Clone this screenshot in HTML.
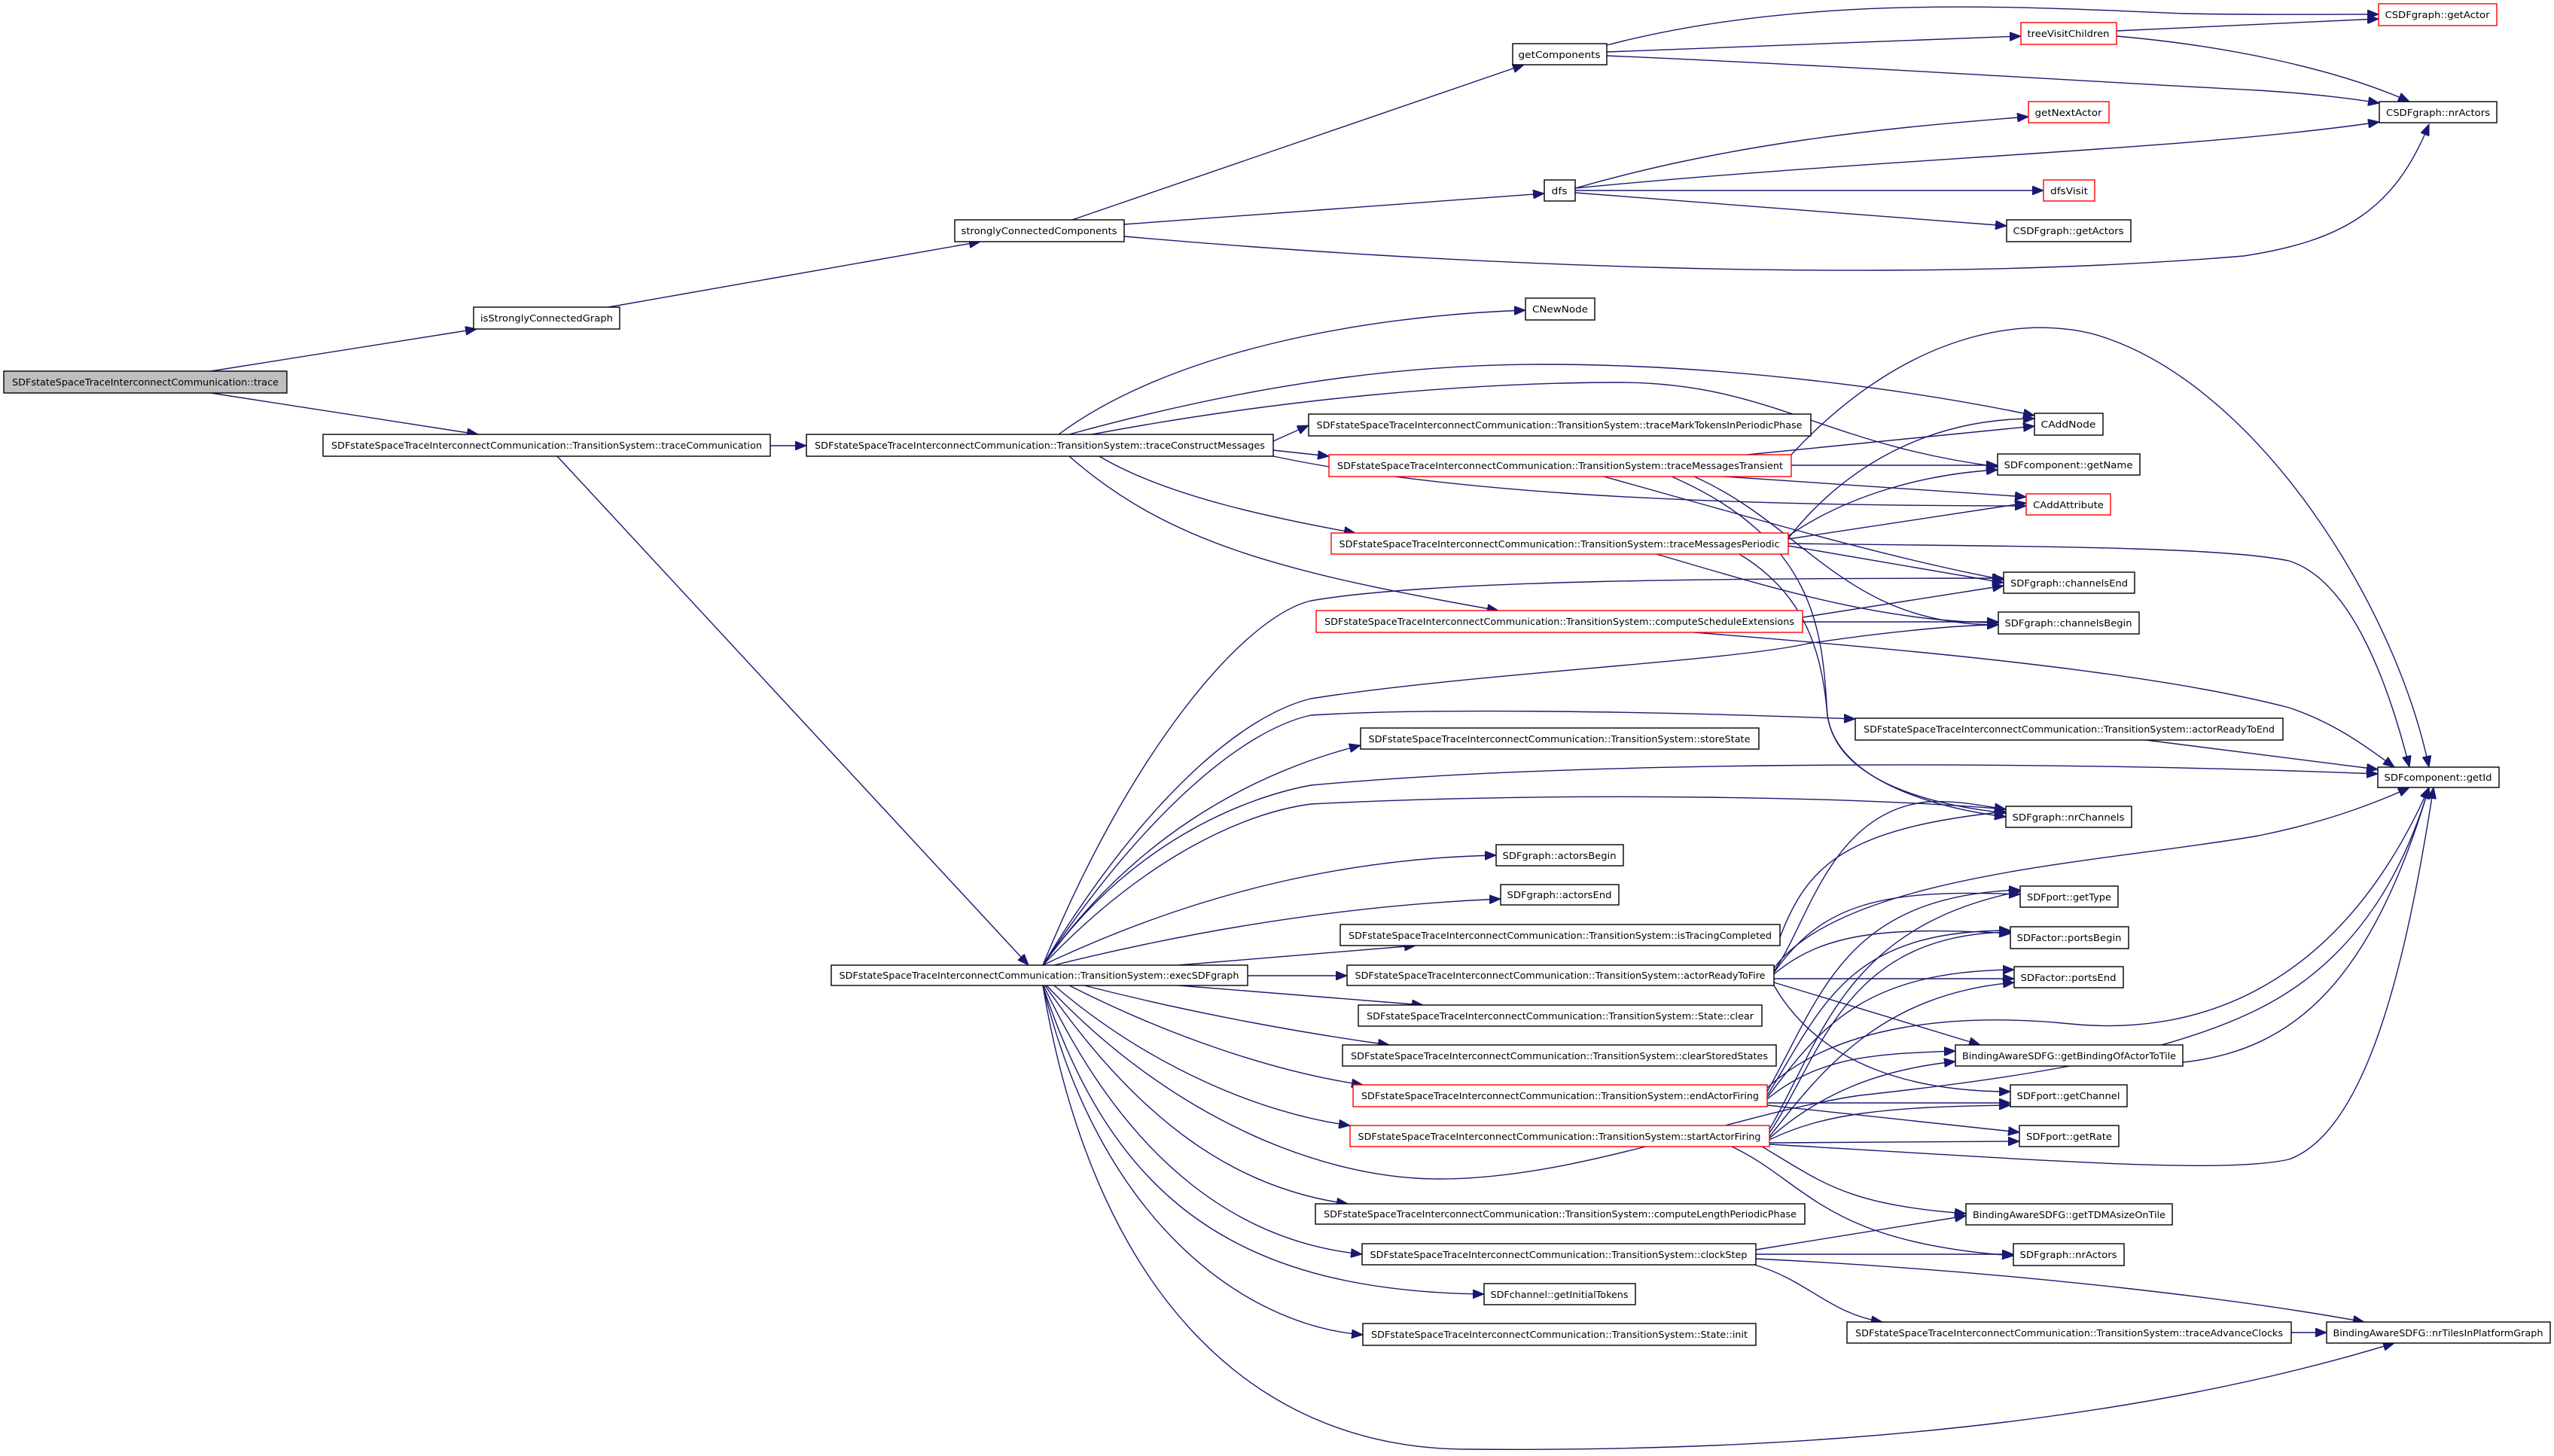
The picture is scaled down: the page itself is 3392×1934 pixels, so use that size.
<!DOCTYPE html>
<html><head><meta charset="utf-8"><style>
html,body{margin:0;padding:0;background:#fff;}
svg{display:block;}
text{font-family:"DejaVu Sans","Liberation Sans",sans-serif;font-size:12.5px;fill:#000;}
.e{fill:none;stroke:#191970;stroke-width:1.4;marker-end:url(#a);}
.n{fill:#fff;stroke:#000;stroke-width:1.4;}
.r{fill:#fff;stroke:#ff0000;stroke-width:1.4;}
.g{fill:#bfbfbf;stroke:#000;stroke-width:1.4;}
</style></head><body>
<svg width="3392" height="1934" viewBox="0 0 3392 1934" xmlns="http://www.w3.org/2000/svg">
<defs><marker id="a" markerUnits="userSpaceOnUse" markerWidth="16" markerHeight="12" refX="15" refY="6" orient="auto"><path d="M0,0 L15,6 L0,12 z" fill="#191970" stroke="#191970"/></marker></defs>

<!-- edges -->
<path class="e" d="M280,493 L633,437"/>
<path class="e" d="M280,522 L635,577"/>
<path class="e" d="M1023,592 L1071,592"/>
<path class="e" d="M740,606 L1366,1282"/>
<path class="e" d="M808,408 L1302,321"/>
<path class="e" d="M1424,292 L2024,86"/>
<path class="e" d="M1493,298 L2051,257"/>
<path class="e" d="M1493,314 C1900,350 2500,380 2980,340 C3110,320 3180,280 3226,165"/>
<path class="e" d="M2134,60 C2400,-10 2700,10 2900,18 C3000,20 3100,19 3159,19"/>
<path class="e" d="M2134,69 L2684,48"/>
<path class="e" d="M2134,74 C2500,90 2800,110 3000,120 C3080,125 3130,132 3160,137"/>
<path class="e" d="M2811,41 L3159,25"/>
<path class="e" d="M2811,48 C2950,60 3100,90 3200,135"/>
<path class="e" d="M2092,250 C2300,190 2500,170 2694,155"/>
<path class="e" d="M2092,250 C2500,210 2900,200 3160,162"/>
<path class="e" d="M2092,253 L2714,253"/>
<path class="e" d="M2092,256 L2665,300"/>
<path class="e" d="M1406,577 C1550,470 1800,420 2026,412"/>
<path class="e" d="M1420,577 C1700,500 1900,484 2050,484 C2300,484 2550,520 2702,552"/>
<path class="e" d="M1450,577 C1700,530 1950,508 2150,508 C2350,508 2420,590 2653,620"/>
<path class="e" d="M1691,586 L1738,565"/>
<path class="e" d="M1691,598 L1765,606"/>
<path class="e" d="M1691,606 C1900,650 2200,672 2691,672"/>
<path class="e" d="M1460,606 C1550,660 1700,690 1800,708"/>
<path class="e" d="M1420,606 C1550,720 1700,760 1990,811"/>
<path class="e" d="M2320,604 L2702,566"/>
<path class="e" d="M2379,618 L2653,618"/>
<path class="e" d="M2290,633 L2691,660"/>
<path class="e" d="M2379,604 C2550,420 2720,420 2800,450 C3000,520 3180,800 3226,1019"/>
<path class="e" d="M2130,633 C2300,680 2500,740 2661,770"/>
<path class="e" d="M2250,633 C2400,700 2450,830 2654,830"/>
<path class="e" d="M2220,633 C2420,720 2420,850 2427,950 C2440,1040 2580,1075 2664,1085"/>
<path class="e" d="M2375,715 C2450,620 2560,556 2702,556"/>
<path class="e" d="M2375,712 C2450,660 2550,630 2653,624"/>
<path class="e" d="M2375,716 L2691,668"/>
<path class="e" d="M2375,725 L2661,774"/>
<path class="e" d="M2200,736 C2350,780 2500,827 2654,827"/>
<path class="e" d="M2375,722 C2700,726 2950,726 3040,745 C3120,770 3170,900 3200,1019"/>
<path class="e" d="M2310,736 C2400,790 2420,870 2427,950 C2440,1040 2570,1070 2664,1080"/>
<path class="e" d="M2394,820 L2661,778"/>
<path class="e" d="M2394,826 L2654,826"/>
<path class="e" d="M2250,840 C2500,860 2850,890 3040,940 C3100,960 3140,990 3180,1019"/>
<path class="e" d="M1385,1282 C1500,1000 1650,820 1741,798 C1900,770 2300,768 2661,768"/>
<path class="e" d="M1385,1282 C1520,1060 1650,950 1741,928 C1950,895 2300,878 2400,855 C2500,840 2600,830 2654,830"/>
<path class="e" d="M1385,1282 C1520,1080 1650,970 1741,950 C1900,940 2200,945 2464,955"/>
<path class="e" d="M1385,1282 C1500,1120 1650,1030 1807,990"/>
<path class="e" d="M1385,1282 C1500,1120 1650,1060 1741,1043 C2100,1010 2700,1010 3158,1028"/>
<path class="e" d="M1385,1282 C1520,1140 1650,1080 1741,1068 C2100,1050 2500,1060 2664,1075"/>
<path class="e" d="M1385,1282 C1600,1180 1800,1140 1987,1136"/>
<path class="e" d="M1400,1282 C1650,1220 1850,1200 1993,1194"/>
<path class="e" d="M1565,1282 L1880,1256"/>
<path class="e" d="M1657,1296 L1789,1296"/>
<path class="e" d="M1565,1309 L1890,1335"/>
<path class="e" d="M1440,1309 C1600,1350 1750,1375 1845,1388"/>
<path class="e" d="M1420,1309 C1560,1380 1700,1425 1810,1441"/>
<path class="e" d="M1400,1309 C1530,1420 1680,1480 1793,1495"/>
<path class="e" d="M1390,1309 C1550,1480 1750,1566 1911,1566 C2100,1566 2300,1480 2470,1455 C2700,1430 2880,1400 3000,1340 C3100,1290 3180,1200 3226,1046"/>
<path class="e" d="M1388,1309 C1520,1500 1650,1580 1790,1599"/>
<path class="e" d="M1386,1309 C1500,1550 1650,1650 1809,1666"/>
<path class="e" d="M1385,1309 C1480,1600 1650,1715 1971,1719"/>
<path class="e" d="M1385,1309 C1460,1620 1650,1760 1810,1773"/>
<path class="e" d="M1385,1309 C1450,1700 1650,1925 1950,1925 C2500,1930 2900,1870 3180,1784"/>
<path class="e" d="M2364,1245 C2400,1150 2450,1100 2664,1078"/>
<path class="e" d="M2356,1290 C2400,1230 2430,1078 2560,1065 C2600,1063 2630,1070 2664,1075"/>
<path class="e" d="M2356,1286 C2450,1160 2800,1145 3000,1110 C3100,1090 3170,1060 3200,1046"/>
<path class="e" d="M2356,1292 C2420,1200 2500,1180 2683,1188"/>
<path class="e" d="M2356,1294 C2420,1240 2500,1230 2670,1240"/>
<path class="e" d="M2356,1300 L2675,1300"/>
<path class="e" d="M2356,1305 L2630,1388"/>
<path class="e" d="M2356,1309 C2420,1420 2550,1450 2670,1450"/>
<path class="e" d="M2347,1450 C2420,1320 2450,1190 2683,1182"/>
<path class="e" d="M2347,1455 C2420,1340 2450,1235 2670,1236"/>
<path class="e" d="M2347,1458 C2420,1360 2480,1290 2675,1288"/>
<path class="e" d="M2347,1460 C2420,1400 2500,1400 2597,1396"/>
<path class="e" d="M2347,1465 L2670,1465"/>
<path class="e" d="M2347,1468 L2682,1504"/>
<path class="e" d="M2347,1445 C2440,1360 2600,1345 2750,1360 C2900,1375 3100,1330 3226,1046"/>
<path class="e" d="M2350,1500 C2420,1380 2450,1230 2683,1184"/>
<path class="e" d="M2350,1505 C2420,1400 2450,1240 2670,1238"/>
<path class="e" d="M2350,1510 C2420,1420 2500,1320 2675,1305"/>
<path class="e" d="M2350,1512 C2420,1450 2500,1420 2597,1410"/>
<path class="e" d="M2350,1514 C2420,1480 2500,1470 2670,1468"/>
<path class="e" d="M2350,1518 L2682,1516"/>
<path class="e" d="M2350,1520 C2700,1540 2950,1560 3040,1540 C3150,1500 3200,1250 3232,1046"/>
<path class="e" d="M2340,1523 C2420,1570 2450,1600 2611,1612"/>
<path class="e" d="M2300,1523 C2400,1570 2420,1650 2674,1668"/>
<path class="e" d="M2332,1660 L2611,1615"/>
<path class="e" d="M2332,1666 L2674,1666"/>
<path class="e" d="M2332,1672 C2700,1690 3000,1730 3140,1756"/>
<path class="e" d="M2330,1680 C2400,1700 2430,1745 2500,1756"/>
<path class="e" d="M3043,1770 L3090,1770"/>
<path class="e" d="M2850,983 L3158,1022"/>
<path class="e" d="M2899,1411 C3050,1395 3150,1300 3226,1046"/>

<!-- nodes -->
<rect class="g" x="5" y="493" width="376" height="29"/><text x="193" y="512" text-anchor="middle" textLength="354" lengthAdjust="spacingAndGlyphs">SDFstateSpaceTraceInterconnectCommunication::trace</text>
<rect class="n" x="629" y="408" width="194" height="29"/><text x="726" y="427" text-anchor="middle" textLength="176" lengthAdjust="spacingAndGlyphs">isStronglyConnectedGraph</text>
<rect class="n" x="1268" y="292" width="225" height="29"/><text x="1380" y="311" text-anchor="middle" textLength="207" lengthAdjust="spacingAndGlyphs">stronglyConnectedComponents</text>
<rect class="n" x="429" y="577" width="594" height="29"/><text x="726" y="596" text-anchor="middle" textLength="572" lengthAdjust="spacingAndGlyphs">SDFstateSpaceTraceInterconnectCommunication::TransitionSystem::traceCommunication</text>
<rect class="n" x="1071" y="577" width="620" height="29"/><text x="1381" y="596" text-anchor="middle" textLength="598" lengthAdjust="spacingAndGlyphs">SDFstateSpaceTraceInterconnectCommunication::TransitionSystem::traceConstructMessages</text>
<rect class="n" x="2009" y="58" width="125" height="28"/><text x="2071" y="77" text-anchor="middle" textLength="109" lengthAdjust="spacingAndGlyphs">getComponents</text>
<rect class="r" x="2684" y="30" width="127" height="29"/><text x="2747" y="49" text-anchor="middle" textLength="109" lengthAdjust="spacingAndGlyphs">treeVisitChildren</text>
<rect class="r" x="3159" y="5" width="157" height="29"/><text x="3237" y="24" text-anchor="middle" textLength="139" lengthAdjust="spacingAndGlyphs">CSDFgraph::getActor</text>
<rect class="n" x="3160" y="135" width="156" height="28"/><text x="3238" y="154" text-anchor="middle" textLength="138" lengthAdjust="spacingAndGlyphs">CSDFgraph::nrActors</text>
<rect class="r" x="2694" y="135" width="107" height="28"/><text x="2747" y="154" text-anchor="middle" textLength="89" lengthAdjust="spacingAndGlyphs">getNextActor</text>
<rect class="n" x="2051" y="239" width="41" height="28"/><text x="2071" y="258" text-anchor="middle" textLength="21" lengthAdjust="spacingAndGlyphs">dfs</text>
<rect class="r" x="2714" y="239" width="68" height="28"/><text x="2748" y="258" text-anchor="middle" textLength="50" lengthAdjust="spacingAndGlyphs">dfsVisit</text>
<rect class="n" x="2665" y="292" width="165" height="29"/><text x="2747" y="311" text-anchor="middle" textLength="147" lengthAdjust="spacingAndGlyphs">CSDFgraph::getActors</text>
<rect class="n" x="2026" y="396" width="92" height="29"/><text x="2072" y="415" text-anchor="middle" textLength="74" lengthAdjust="spacingAndGlyphs">CNewNode</text>
<rect class="n" x="1738" y="550" width="667" height="29"/><text x="2071" y="569" text-anchor="middle" textLength="645" lengthAdjust="spacingAndGlyphs">SDFstateSpaceTraceInterconnectCommunication::TransitionSystem::traceMarkTokensInPeriodicPhase</text>
<rect class="n" x="2702" y="549" width="91" height="29"/><text x="2747" y="568" text-anchor="middle" textLength="73" lengthAdjust="spacingAndGlyphs">CAddNode</text>
<rect class="r" x="1765" y="604" width="614" height="29"/><text x="2072" y="623" text-anchor="middle" textLength="592" lengthAdjust="spacingAndGlyphs">SDFstateSpaceTraceInterconnectCommunication::TransitionSystem::traceMessagesTransient</text>
<rect class="n" x="2653" y="603" width="189" height="28"/><text x="2747" y="622" text-anchor="middle" textLength="171" lengthAdjust="spacingAndGlyphs">SDFcomponent::getName</text>
<rect class="r" x="2691" y="656" width="112" height="28"/><text x="2747" y="675" text-anchor="middle" textLength="94" lengthAdjust="spacingAndGlyphs">CAddAttribute</text>
<rect class="r" x="1768" y="708" width="607" height="28"/><text x="2071" y="727" text-anchor="middle" textLength="585" lengthAdjust="spacingAndGlyphs">SDFstateSpaceTraceInterconnectCommunication::TransitionSystem::traceMessagesPeriodic</text>
<rect class="r" x="1748" y="811" width="646" height="29"/><text x="2071" y="830" text-anchor="middle" textLength="624" lengthAdjust="spacingAndGlyphs">SDFstateSpaceTraceInterconnectCommunication::TransitionSystem::computeScheduleExtensions</text>
<rect class="n" x="1807" y="967" width="529" height="28"/><text x="2071" y="986" text-anchor="middle" textLength="507" lengthAdjust="spacingAndGlyphs">SDFstateSpaceTraceInterconnectCommunication::TransitionSystem::storeState</text>
<rect class="n" x="1987" y="1122" width="169" height="28"/><text x="2071" y="1141" text-anchor="middle" textLength="151" lengthAdjust="spacingAndGlyphs">SDFgraph::actorsBegin</text>
<rect class="n" x="1993" y="1175" width="157" height="27"/><text x="2071" y="1193" text-anchor="middle" textLength="139" lengthAdjust="spacingAndGlyphs">SDFgraph::actorsEnd</text>
<rect class="n" x="1780" y="1228" width="584" height="28"/><text x="2072" y="1247" text-anchor="middle" textLength="562" lengthAdjust="spacingAndGlyphs">SDFstateSpaceTraceInterconnectCommunication::TransitionSystem::isTracingCompleted</text>
<rect class="n" x="1104" y="1282" width="553" height="27"/><text x="1380" y="1300" text-anchor="middle" textLength="531" lengthAdjust="spacingAndGlyphs">SDFstateSpaceTraceInterconnectCommunication::TransitionSystem::execSDFgraph</text>
<rect class="n" x="1789" y="1282" width="567" height="27"/><text x="2072" y="1300" text-anchor="middle" textLength="545" lengthAdjust="spacingAndGlyphs">SDFstateSpaceTraceInterconnectCommunication::TransitionSystem::actorReadyToFire</text>
<rect class="n" x="1804" y="1335" width="536" height="28"/><text x="2072" y="1354" text-anchor="middle" textLength="514" lengthAdjust="spacingAndGlyphs">SDFstateSpaceTraceInterconnectCommunication::TransitionSystem::State::clear</text>
<rect class="n" x="1783" y="1388" width="576" height="28"/><text x="2071" y="1407" text-anchor="middle" textLength="554" lengthAdjust="spacingAndGlyphs">SDFstateSpaceTraceInterconnectCommunication::TransitionSystem::clearStoredStates</text>
<rect class="r" x="1797" y="1441" width="550" height="29"/><text x="2072" y="1460" text-anchor="middle" textLength="528" lengthAdjust="spacingAndGlyphs">SDFstateSpaceTraceInterconnectCommunication::TransitionSystem::endActorFiring</text>
<rect class="r" x="1793" y="1495" width="557" height="28"/><text x="2071" y="1514" text-anchor="middle" textLength="535" lengthAdjust="spacingAndGlyphs">SDFstateSpaceTraceInterconnectCommunication::TransitionSystem::startActorFiring</text>
<rect class="n" x="1747" y="1599" width="650" height="27"/><text x="2072" y="1617" text-anchor="middle" textLength="628" lengthAdjust="spacingAndGlyphs">SDFstateSpaceTraceInterconnectCommunication::TransitionSystem::computeLengthPeriodicPhase</text>
<rect class="n" x="1809" y="1652" width="523" height="28"/><text x="2070" y="1671" text-anchor="middle" textLength="501" lengthAdjust="spacingAndGlyphs">SDFstateSpaceTraceInterconnectCommunication::TransitionSystem::clockStep</text>
<rect class="n" x="1971" y="1705" width="201" height="28"/><text x="2071" y="1724" text-anchor="middle" textLength="183" lengthAdjust="spacingAndGlyphs">SDFchannel::getInitialTokens</text>
<rect class="n" x="1810" y="1758" width="522" height="29"/><text x="2071" y="1777" text-anchor="middle" textLength="500" lengthAdjust="spacingAndGlyphs">SDFstateSpaceTraceInterconnectCommunication::TransitionSystem::State::init</text>
<rect class="n" x="2661" y="760" width="174" height="28"/><text x="2748" y="779" text-anchor="middle" textLength="156" lengthAdjust="spacingAndGlyphs">SDFgraph::channelsEnd</text>
<rect class="n" x="2654" y="813" width="187" height="29"/><text x="2747" y="832" text-anchor="middle" textLength="169" lengthAdjust="spacingAndGlyphs">SDFgraph::channelsBegin</text>
<rect class="n" x="2464" y="954" width="568" height="29"/><text x="2748" y="973" text-anchor="middle" textLength="546" lengthAdjust="spacingAndGlyphs">SDFstateSpaceTraceInterconnectCommunication::TransitionSystem::actorReadyToEnd</text>
<rect class="n" x="3158" y="1019" width="161" height="27"/><text x="3238" y="1037" text-anchor="middle" textLength="143" lengthAdjust="spacingAndGlyphs">SDFcomponent::getId</text>
<rect class="n" x="2664" y="1071" width="167" height="28"/><text x="2747" y="1090" text-anchor="middle" textLength="149" lengthAdjust="spacingAndGlyphs">SDFgraph::nrChannels</text>
<rect class="n" x="2683" y="1177" width="130" height="28"/><text x="2748" y="1196" text-anchor="middle" textLength="112" lengthAdjust="spacingAndGlyphs">SDFport::getType</text>
<rect class="n" x="2670" y="1231" width="157" height="29"/><text x="2748" y="1250" text-anchor="middle" textLength="139" lengthAdjust="spacingAndGlyphs">SDFactor::portsBegin</text>
<rect class="n" x="2675" y="1284" width="145" height="28"/><text x="2747" y="1303" text-anchor="middle" textLength="127" lengthAdjust="spacingAndGlyphs">SDFactor::portsEnd</text>
<rect class="n" x="2597" y="1388" width="302" height="28"/><text x="2748" y="1407" text-anchor="middle" textLength="284" lengthAdjust="spacingAndGlyphs">BindingAwareSDFG::getBindingOfActorToTile</text>
<rect class="n" x="2670" y="1441" width="155" height="29"/><text x="2747" y="1460" text-anchor="middle" textLength="137" lengthAdjust="spacingAndGlyphs">SDFport::getChannel</text>
<rect class="n" x="2682" y="1495" width="132" height="28"/><text x="2748" y="1514" text-anchor="middle" textLength="114" lengthAdjust="spacingAndGlyphs">SDFport::getRate</text>
<rect class="n" x="2611" y="1599" width="274" height="28"/><text x="2748" y="1618" text-anchor="middle" textLength="256" lengthAdjust="spacingAndGlyphs">BindingAwareSDFG::getTDMAsizeOnTile</text>
<rect class="n" x="2674" y="1652" width="147" height="29"/><text x="2747" y="1671" text-anchor="middle" textLength="129" lengthAdjust="spacingAndGlyphs">SDFgraph::nrActors</text>
<rect class="n" x="2453" y="1756" width="590" height="28"/><text x="2748" y="1775" text-anchor="middle" textLength="568" lengthAdjust="spacingAndGlyphs">SDFstateSpaceTraceInterconnectCommunication::TransitionSystem::traceAdvanceClocks</text>
<rect class="n" x="3090" y="1756" width="297" height="28"/><text x="3238" y="1775" text-anchor="middle" textLength="279" lengthAdjust="spacingAndGlyphs">BindingAwareSDFG::nrTilesInPlatformGraph</text>
</svg>
</body></html>
